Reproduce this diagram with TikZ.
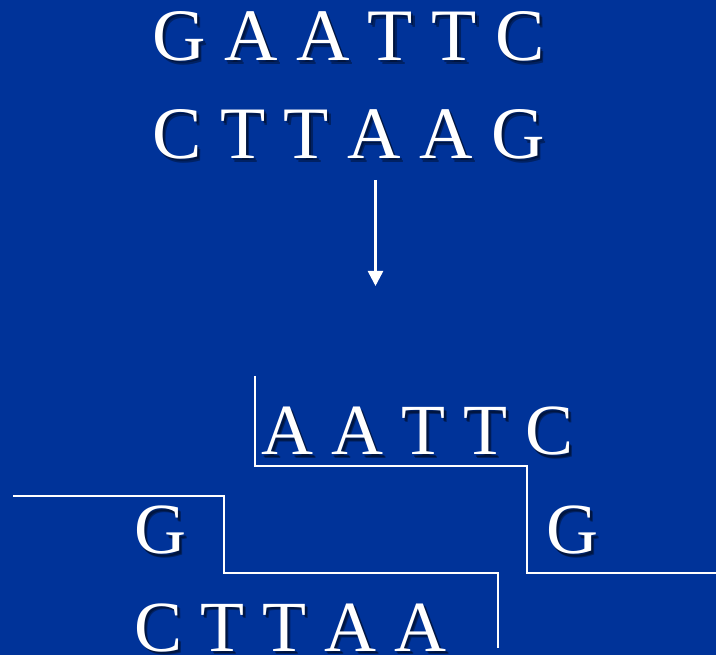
\documentclass[tikz,border=0pt]{standalone}
\usepackage{fontspec}
\setmainfont{Liberation Serif}
\usetikzlibrary{calc,arrows.meta}
\definecolor{bg}{RGB}{0,51,153}
\tikzset{
  txt/.style={text=white,inner sep=0pt,anchor=base west,font=\fontsize{74}{80}\selectfont},
  shd/.style={txt,text=black,text opacity=0.35},
  small/.style={font=\fontsize{72}{80}\selectfont},
  cutline/.style={draw=white,line width=2pt},
  arr/.style={draw=white,line width=2.5pt,-{Triangle[length=15pt,width=15pt]}}
}
\newcommand\seqtxt[4][]{%
  \node[shd,#1] at ($(#3)+(3.5,3.5)$) {#4};
  \node[shd,#1] at ($(#3)+(2,2)$) {#4};
  \node[txt,#1] (#2) at (#3) {#4};}
\begin{document}
\begin{tikzpicture}[x=1pt,y=-1pt]
\useasboundingbox (0,0) rectangle (716,655);
\fill[bg] (0,0) rectangle (716,655);
% original sequence
\coordinate (p1) at (152,61);
\coordinate (p2) at (152,159);
\seqtxt{top}{p1}{G A A T T C}
\seqtxt{bot}{p2}{C T T A A G}
% arrow
\coordinate (a1) at (375.5,180);
\coordinate (a2) at (375.5,286);
\draw[arr] (a1) -- (a2);
% cut fragments
\coordinate (p3) at (261,455);
\coordinate (p4) at (546,554);
\coordinate (p5) at (134,554);
\coordinate (p6) at (134,651);
\seqtxt[small]{fa}{p3}{A A T T C}
\seqtxt[small]{fg}{p4}{G}
\seqtxt[small]{lg}{p5}{G}
\seqtxt[small]{lc}{p6}{C T T A A}
% cut lines
\coordinate (r1) at (254.5,376);
\coordinate (r2) at (254.5,466.5);
\coordinate (r3) at (526.5,466.5);
\coordinate (r4) at (526.5,572.5);
\coordinate (r5) at (716,572.5);
\draw[cutline] (r1) -- (r2) -- (r3) -- (r4) -- (r5);
\coordinate (l1) at (13,496.5);
\coordinate (l2) at (224,496.5);
\coordinate (l3) at (224,572.5);
\coordinate (l4) at (497.5,572.5);
\coordinate (l5) at (497.5,648);
\draw[cutline] (l1) -- (l2) -- (l3) -- (l4) -- (l5);
\end{tikzpicture}
\end{document}
